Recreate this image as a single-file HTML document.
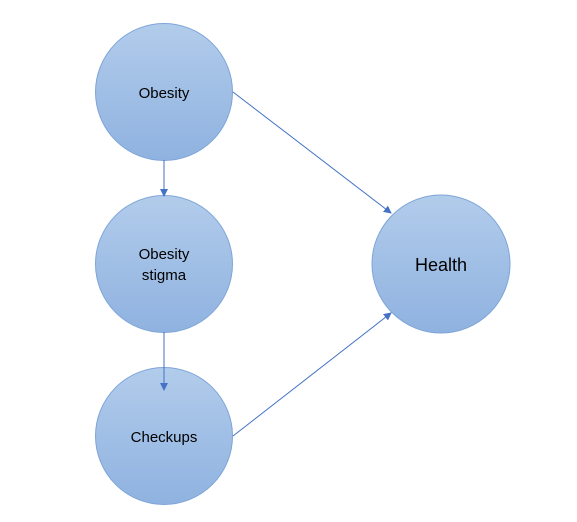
<!DOCTYPE html>
<html><head><style>
html,body{margin:0;padding:0;background:#fff;}
svg{display:block;font-family:"Liberation Sans",Calibri,sans-serif;}
</style></head><body>
<svg width="577" height="522" viewBox="0 0 577 522" xmlns="http://www.w3.org/2000/svg">
<defs>
<linearGradient id="g" x1="0" y1="0" x2="0" y2="1">
<stop offset="0" stop-color="#b2cceb"/>
<stop offset="1" stop-color="#8fb2e0"/>
</linearGradient>
<marker id="a" markerWidth="8" markerHeight="8" refX="7" refY="4" orient="auto" markerUnits="userSpaceOnUse">
<path d="M0,0 L8,4 L0,8 Z" fill="#4472c4"/>
</marker>
</defs>
<g fill="url(#g)" stroke="#7ea5d8" stroke-width="1">
<circle cx="164" cy="92" r="68.5"/>
<circle cx="164" cy="264" r="68.5"/>
<circle cx="164" cy="436" r="68.5"/>
<circle cx="441" cy="264" r="69"/>
</g>
<g stroke="#4472c4" stroke-width="1" fill="none">
<line x1="164" y1="160" x2="164" y2="196" marker-end="url(#a)"/>
<line x1="164" y1="332" x2="164" y2="390" marker-end="url(#a)"/>
<line x1="233" y1="92" x2="391" y2="213" marker-end="url(#a)"/>
<line x1="233" y1="436" x2="391" y2="313" marker-end="url(#a)"/>
</g>
<g fill="#000" text-anchor="middle" font-size="15">
<text x="164" y="98">Obesity</text>
<text x="164" y="259">Obesity</text>
<text x="164" y="280">stigma</text>
<text x="164" y="442">Checkups</text>
<text x="441" y="271" font-size="18">Health</text>
</g>
</svg>
</body></html>
